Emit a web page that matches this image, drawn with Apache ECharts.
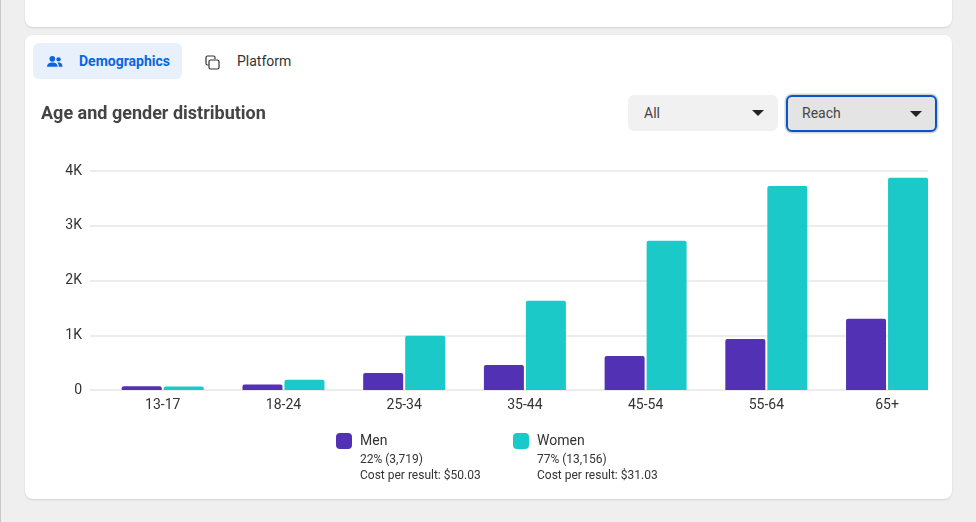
<!DOCTYPE html>
<html>
<head>
<meta charset="utf-8">
<title>Age and gender distribution</title>
<script src="https://cdn.jsdelivr.net/npm/echarts@6/dist/echarts.min.js"></script>
<style>
html, body { margin: 0; padding: 0; width: 976px; height: 522px; overflow: hidden; background: #efefef; font-family: Roboto, sans-serif; }
.edge { position: absolute; left: 0; top: 0; width: 1px; height: 522px; background: #c9c9c9; }
.card { position: absolute; left: 25px; width: 927px; background: #fff; border-radius: 8px; box-shadow: 0 1px 2px rgba(0,0,0,.12); }
#card-top { top: -20px; height: 47px; }
#card-main { top: 35px; height: 464px; }
.tab { position: absolute; top: 43px; height: 36px; font-size: 14px; line-height: 36px; color: #333; }
#tab-demo { left: 33px; width: 149px; background: #e7f0fb; border-radius: 6px; color: #0866e0; font-weight: 700; }
#tab-demo span { position: absolute; left: 46px; }
#tab-demo svg { position: absolute; left: 14px; top: 12px; }
#tab-platform { left: 205px; width: 100px; }
#tab-platform span { position: absolute; left: 32px; }
#tab-platform svg { position: absolute; left: 0; top: 12px; }
.select { position: absolute; box-sizing: border-box; font-size: 14px; color: #444; border-radius: 6px; }
.select i { position: absolute; top: 50%; margin-top: -3px; right: 14px; border-left: 6px solid transparent; border-right: 6px solid transparent; border-top: 6px solid #222; }
#sel-all { left: 628px; top: 95px; width: 150px; height: 36px; line-height: 36px; padding-left: 16px; background: #f1f1f1; }
#sel-reach { left: 786px; top: 95px; width: 151px; height: 37px; line-height: 33px; padding-left: 14px; background: #e4e4e4; border: 2px solid #0a55c4; box-shadow: 0 0 0 1.5px #d4d4d4; }
#sel-reach i { right: 13px; }
#main { position: absolute; left: 0; top: 0; width: 976px; height: 522px; }
</style>
</head>
<body>
<div class="edge"></div>
<div class="card" id="card-top"></div>
<div class="card" id="card-main"></div>
<div class="tab" id="tab-demo">
    <svg width="16" height="13" viewBox="0 0 18 14"><circle cx="6" cy="4" r="3.2" fill="#0866e0"/><circle cx="13" cy="4.6" r="2.5" fill="#0866e0"/><path d="M0 13c0-3.6 2.6-5 6-5s6 1.400 6 5z" fill="#0866e0"/><path d="M13 8c2.800 0 4.500 1.400 4.500 5H13.400c0-2-.6-3.500-1.800-4.700.4-.2.900-.3 1.400-.3z" fill="#0866e0"/></svg>
    <span>Demographics</span>
</div>
<div class="tab" id="tab-platform">
    <svg width="15" height="15" viewBox="0 0 15 15" fill="none" stroke="#333" stroke-width="1.200"><path d="M3.500 10H2.500A1.500 1.500 0 0 1 1 8.500V2.500A1.500 1.500 0 0 1 2.500 1h6A1.500 1.500 0 0 1 10 2.500V4"/><rect x="4" y="5" width="10" height="9" rx="1.500"/></svg>
    <span>Platform</span>
</div>
<div class="select" id="sel-all">All<i></i></div>
<div class="select" id="sel-reach">Reach<i></i></div>
<div id="main"></div>
<script>
//图表数据
var chartTitle = 'Age and gender distribution';
var categories = ['13-17', '18-24', '25-34', '35-44', '45-54', '55-64', '65+'];
var menValues = [70, 100, 310, 455, 620, 930, 1300];
var womenValues = [65, 185, 990, 1630, 2725, 3725, 3875];
var yTicks = [0, 1000, 2000, 3000, 4000];
var yTickLabels = ['0', '1K', '2K', '3K', '4K'];
var seriesNames = ['Men', 'Women'];
var seriesShares = ['22% (3,719)', '77% (13,156)'];
var seriesCosts = ['Cost per result: $50.03', 'Cost per result: $31.03'];
var seriesColors = ['#5331b5', '#1bc9c9'];

var gridLine = '#e6e6e6';
var textColor = '#333333';

//图例下方的说明文字
function legendNotes(index, left) {
    return {
        type: 'text',
        left: left,
        top: 452,
        style: {
            text: seriesShares[index] + '\n' + seriesCosts[index],
            fill: textColor,
            font: '12px Roboto',
            lineHeight: 16
        }
    };
}

//单个图例
function legendItem(index, left) {
    return {
        data: [seriesNames[index]],
        left: left,
        top: 433,
        padding: 0,
        itemWidth: 16,
        itemHeight: 16,
        icon: 'roundRect',
        selectedMode: false,
        textStyle: {
            color: textColor,
            fontFamily: 'Roboto',
            fontSize: 14,
            padding: [2, 0, 0, 3]
        }
    };
}

//柱子系列
function barSeries(index, values) {
    return {
        name: seriesNames[index],
        type: 'bar',
        xAxisIndex: 1,
        yAxisIndex: 1,
        data: values,
        barWidth: 40,
        barGap: '5%',
        itemStyle: {
            color: seriesColors[index],
            borderRadius: [2, 2, 0, 0]
        }
    };
}

var myChart = echarts.init(document.getElementById('main'), null, { renderer: 'canvas' });
var option = {
    animation: false,
    backgroundColor: 'transparent',
    title: {
        text: chartTitle,
        left: 41,
        top: 105,
        padding: 0,
        textStyle: {
            color: '#444444',
            fontFamily: 'Roboto',
            fontSize: 18,
            fontWeight: 700
        }
    },
    legend: [legendItem(0, 336), legendItem(1, 513)],
    //第一个网格画横线和纵坐标，第二个网格画柱子
    grid: [
        { left: 90, top: 171, width: 838, height: 219 },
        { left: 102.4, top: 171, width: 845, height: 219 }
    ],
    xAxis: [{
        type: 'category',
        gridIndex: 0,
        data: categories,
        show: false
    }, {
        type: 'category',
        gridIndex: 1,
        data: categories,
        axisTick: { show: false },
        axisLine: { show: false },
        axisLabel: {
            color: textColor,
            fontFamily: 'Roboto',
            fontSize: 14,
            margin: 8
        }
    }],
    yAxis: [{
        type: 'value',
        gridIndex: 0,
        min: yTicks[0],
        max: yTicks[yTicks.length - 1],
        interval: yTicks[1] - yTicks[0],
        axisLine: { show: false },
        axisTick: { show: false },
        splitLine: { lineStyle: { color: gridLine, width: 1.5 } },
        axisLabel: {
            color: textColor,
            fontFamily: 'Roboto',
            fontSize: 14,
            margin: 8,
            padding: [2, 0, 0, 0],
            formatter: function(value) {
                return yTickLabels[yTicks.indexOf(value)];
            }
        }
    }, {
        type: 'value',
        gridIndex: 1,
        min: yTicks[0],
        max: yTicks[yTicks.length - 1],
        show: false
    }],
    graphic: [legendNotes(0, 360), legendNotes(1, 537)],
    series: [barSeries(0, menValues), barSeries(1, womenValues)]
};
myChart.setOption(option);
</script>
</body>
</html>
